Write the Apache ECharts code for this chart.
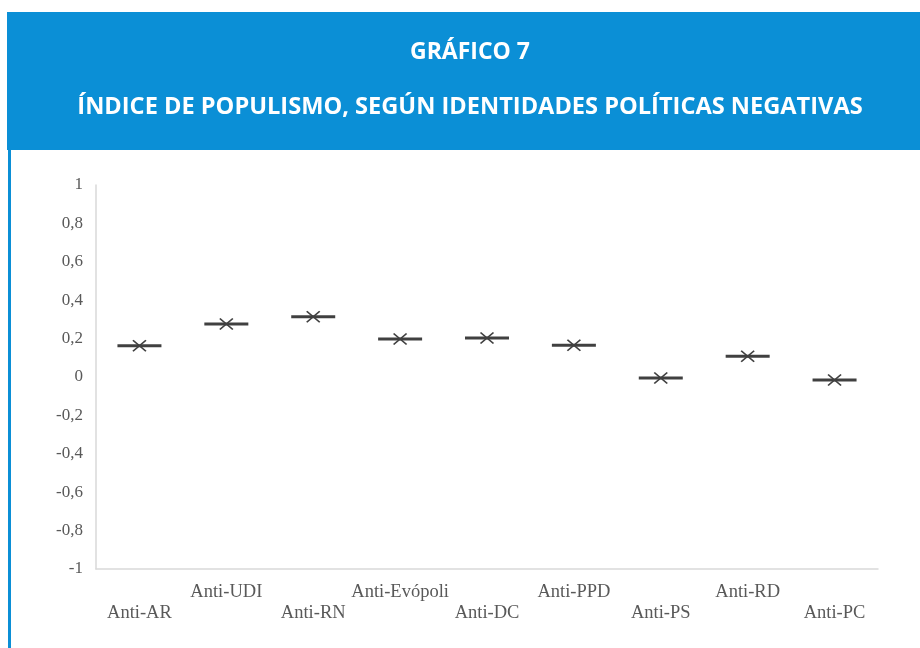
<!DOCTYPE html>
<html>
<head>
<meta charset="utf-8">
<script src="https://cdn.jsdelivr.net/npm/echarts@6/dist/echarts.min.js"></script>
<style>
html,body{margin:0;padding:0;background:#fff;}
#c{width:920px;height:648px;}
</style>
</head>
<body>
<div id="c"></div>
<script>
var categories = ['Anti-AR','Anti-UDI','Anti-RN','Anti-Evópoli','Anti-DC','Anti-PPD','Anti-PS','Anti-RD','Anti-PC'];
var values = [0.163, 0.276, 0.314, 0.198, 0.203, 0.165, -0.005, 0.108, -0.016];
var yTicks = [-1, -0.8, -0.6, -0.4, -0.2, 0, 0.2, 0.4, 0.6, 0.8, 1];
var titleMain = 'GRÁFICO 7';
var titleSub = 'ÍNDICE DE POPULISMO, SEGÚN IDENTIDADES POLÍTICAS NEGATIVAS';

var chart = echarts.init(document.getElementById('c'), null, {renderer:'canvas'});
var blue = '#0B8FD6';
var option = {
  animation: false,
  backgroundColor: '#fff',
  graphic: [
    {type:'rect', shape:{x:7, y:12, width:913, height:138}, style:{fill:blue}, z:-1},
    {type:'rect', shape:{x:8, y:150, width:3, height:498}, style:{fill:blue}, z:-1}
  ],
  title: [
    {text: titleMain, left: 465, textAlign:'center', top: 36, textStyle:{color:'#fff', fontFamily:'Open Sans', fontWeight:'bold', fontSize:23}},
    {text: titleSub, left: 465, textAlign:'center', top: 90, textStyle:{color:'#fff', fontFamily:'Open Sans', fontWeight:'bold', fontSize:23.6}}
  ],
  grid: {left: 96, right: 42, top: 185, bottom: 79, containLabel: false},
  xAxis: {
    type: 'category',
    data: categories,
    position: 'bottom',
    axisLine: {onZero:false, lineStyle:{color:'#D9D9D9', width:1.5}},
    axisTick: {show:false},
    axisLabel: {
      interval: 0,
      margin: 13,
      color: '#595959',
      fontFamily: 'Liberation Serif',
      fontSize: 18.5,
      lineHeight: 21,
      formatter: function(v, i){ return i % 2 === 0 ? '\n' + v : v; }
    },
    splitLine: {show:false}
  },
  yAxis: {
    type: 'value',
    min: -1, max: 1, interval: 0.2,
    axisLine: {show:true, lineStyle:{color:'#D9D9D9', width:1.5}},
    axisTick: {show:false},
    splitLine: {show:false},
    axisLabel: {
      margin: 13,
      color: '#595959',
      fontFamily: 'Liberation Serif',
      fontSize: 17,
      formatter: function(v){
        var r = Math.round(v*10)/10;
        return String(r).replace('.', ',');
      }
    }
  },
  series: [
    {
      type: 'scatter',
      data: values,
      symbol: 'rect',
      symbolSize: [44, 3],
      itemStyle: {color:'#404040', opacity:1},
      z: 2
    },
    {
      type: 'scatter',
      data: values,
      symbol: 'path://M0,0L10,10M10,0L0,10',
      symbolSize: [13, 11],
      itemStyle: {color:'none', borderColor:'#404040', borderWidth:1.6, opacity:1},
      z: 3
    }
  ]
};
chart.setOption(option);
</script>
</body>
</html>
